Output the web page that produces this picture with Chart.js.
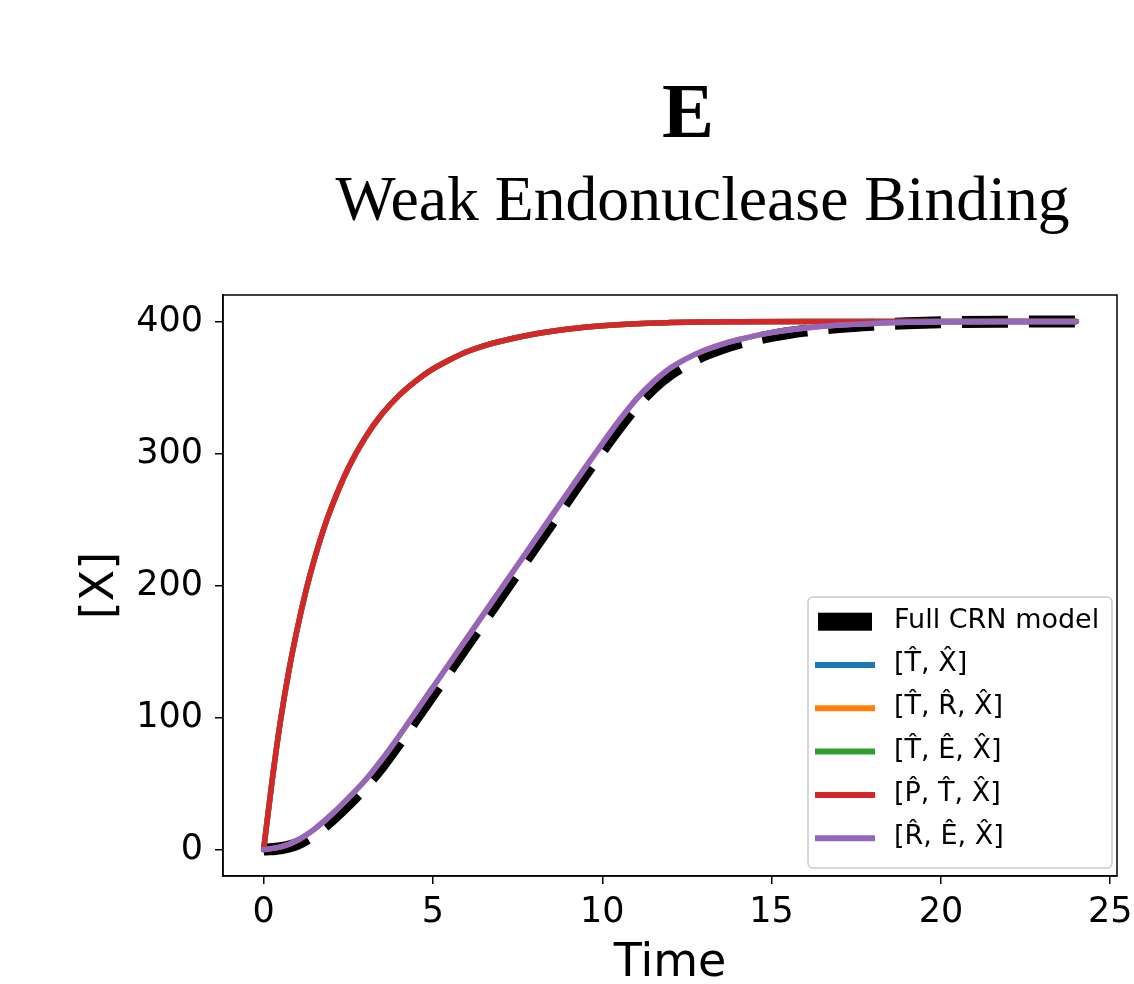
<!DOCTYPE html>
<html>
<head>
<meta charset="utf-8">
<script src="https://cdn.jsdelivr.net/npm/chart.js@4.4.0/dist/chart.umd.min.js"></script>
<style>
html,body{margin:0;padding:0;background:#fff;}
#wrap{width:1134px;height:984px;position:relative;}
</style>
</head>
<body>
<div id="wrap"><canvas id="c" width="1134" height="984"></canvas></div>
<script>
// ---- data ----
const panelLetter = 'E';
const chartTitle = 'Weak Endonuclease Binding';
const xLabel = 'Time';
const yLabel = '[X]';
const xTicks = [0, 5, 10, 15, 20, 25];
const yTicks = [0, 100, 200, 300, 400];

const timeFast = [0, 0.25, 0.5, 0.75, 1, 1.25, 1.5, 1.75, 2, 2.5, 3, 3.5, 4, 4.5, 5, 5.5, 6, 6.5, 7, 8, 9, 10, 11, 12, 13, 14, 16, 18, 20, 22, 24];
const fastValues = [0, 52, 98, 136, 168, 196, 220, 241, 259, 289, 312, 330, 344, 355, 364, 371, 377, 381.5, 385, 390.5, 394.3, 396.8, 398.3, 399.1, 399.6, 399.8, 400, 400, 400, 400, 400];

const timeSlow = [0, 0.5, 1, 1.5, 2, 2.5, 3, 3.5, 4, 4.5, 5, 5.5, 6, 6.5, 7, 7.5, 8, 8.5, 9, 9.5, 10, 10.5, 11, 11.5, 12, 12.5, 13, 13.5, 14, 14.5, 15, 15.5, 16, 17, 18, 19, 20, 22, 24];
const slowValues = [0, 2, 7, 15.5, 26.5, 39, 52.5, 68.5, 86, 104.5, 123, 141.5, 160, 178.5, 197, 215.5, 234, 252.5, 271, 289.5, 307.5, 325, 341, 354, 364.5, 372, 378, 382.5, 386, 389, 391.5, 393.5, 395, 397.2, 398.5, 399.3, 399.7, 400, 400];
const fullCRNValues = [0, 1, 4.5, 12, 22.5, 34.5, 48, 63.5, 81, 99.5, 118, 136.5, 155, 173.5, 192, 210.5, 229, 247.5, 266, 284.5, 302.5, 320, 336, 349.5, 360, 368, 374.5, 379.5, 383.5, 386.5, 389, 391.2, 393, 395.8, 397.5, 398.6, 399.3, 399.8, 400];

const seriesLabels = ['Full CRN model', '[T\u0302, X\u0302]', '[T\u0302, R\u0302, X\u0302]', '[T\u0302, E\u0302, X\u0302]', '[P\u0302, T\u0302, X\u0302]', '[R\u0302, E\u0302, X\u0302]'];
const seriesColors = ['#000000', '#1f77b4', '#ff7f0e', '#2ca02c', '#d62728', '#9467bd'];

// ---- build ----
const pts = (xs, ys) => xs.map((x, i) => ({x: x, y: ys[i]}));
const seriesData = [
  pts(timeSlow, fullCRNValues),
  pts(timeFast, fastValues),
  pts(timeSlow, slowValues),
  pts(timeFast, fastValues),
  pts(timeFast, fastValues),
  pts(timeSlow, slowValues)
];

const datasets = seriesData.map((d, i) => ({
  label: seriesLabels[i],
  data: d,
  borderColor: seriesColors[i],
  backgroundColor: seriesColors[i],
  borderWidth: i === 0 ? 12 : 5.5,
  borderDash: i === 0 ? [46, 21] : [],
  borderCapStyle: i === 0 ? 'butt' : 'round',
  pointRadius: 0,
  fill: false,
  cubicInterpolationMode: 'monotone',
  order: 6 - i
}));

const bgPlugin = {
  id: 'bg',
  beforeDraw(chart) {
    const ctx = chart.ctx;
    ctx.save();
    ctx.fillStyle = '#ffffff';
    ctx.fillRect(0, 0, chart.width, chart.height);
    ctx.restore();
  }
};

const titlePlugin = {
  id: 'panelTitle',
  afterDraw(chart) {
    const ctx = chart.ctx;
    ctx.save();
    ctx.fillStyle = '#000';
    ctx.textAlign = 'center';
    ctx.textBaseline = 'alphabetic';
    ctx.font = 'bold 78px "Liberation Serif", "DejaVu Serif", serif';
    ctx.fillText(panelLetter, 688, 137);
    ctx.font = '63.7px "Liberation Serif", "DejaVu Serif", serif';
    ctx.fillText(chartTitle, 702.5, 220);
    ctx.restore();
  }
};

const framePlugin = {
  id: 'frame',
  afterDatasetsDraw(chart) {
    const a = chart.chartArea;
    const ctx = chart.ctx;
    ctx.save();
    ctx.strokeStyle = '#000';
    ctx.lineWidth = 1.5;
    ctx.strokeRect(a.left, a.top, a.right - a.left, a.bottom - a.top);
    ctx.restore();
  }
};

const legendPlugin = {
  id: 'boxLegend',
  afterDraw(chart) {
    const ctx = chart.ctx;
    const bx = 808, by = 597, bw = 304, bh = 271, r = 5;
    ctx.save();
    ctx.beginPath();
    ctx.moveTo(bx + r, by);
    ctx.arcTo(bx + bw, by, bx + bw, by + bh, r);
    ctx.arcTo(bx + bw, by + bh, bx, by + bh, r);
    ctx.arcTo(bx, by + bh, bx, by, r);
    ctx.arcTo(bx, by, bx + bw, by, r);
    ctx.closePath();
    ctx.fillStyle = 'rgba(255,255,255,0.8)';
    ctx.fill();
    ctx.strokeStyle = '#cccccc';
    ctx.lineWidth = 1.5;
    ctx.stroke();
    const rowH = 43.3;
    const y0 = 621.7;
    chart.data.datasets.forEach((ds, i) => {
      const cy = y0 + i * rowH;
      if (i === 0) {
        ctx.fillStyle = ds.borderColor;
        ctx.fillRect(818, cy - 9, 54, 18);
      } else {
        ctx.beginPath();
        ctx.strokeStyle = ds.borderColor;
        ctx.lineWidth = 6;
        ctx.lineCap = 'square';
        ctx.moveTo(818, cy);
        ctx.lineTo(872, cy);
        ctx.stroke();
      }
      ctx.fillStyle = '#000';
      ctx.font = '27px "DejaVu Sans", sans-serif';
      ctx.textAlign = 'left';
      ctx.textBaseline = 'middle';
      ctx.fillText(ds.label, 894, cy - 1);
    });
    ctx.restore();
  }
};

const tickFont = {family: '"DejaVu Sans", sans-serif', size: 35};
const titleFont = {family: '"DejaVu Sans", sans-serif', size: 46};
const zeroPad = (s) => { s.paddingLeft = 0; s.paddingRight = 0; s.paddingTop = 0; s.paddingBottom = 0; };

new Chart(document.getElementById('c'), {
  type: 'line',
  data: {datasets: datasets},
  options: {
    responsive: false,
    animation: false,
    devicePixelRatio: 1,
    layout: {padding: {left: 0, right: 17, top: 295, bottom: 0}},
    plugins: {legend: {display: false}, tooltip: {enabled: false}, title: {display: false}},
    scales: {
      x: {
        type: 'linear',
        min: -1.2,
        max: 25.2,
        afterBuildTicks: (s) => { s.ticks = xTicks.map(v => ({value: v})); },
        afterFit: (s) => { s.height = 108; zeroPad(s); },
        grid: {display: true, drawOnChartArea: false, drawTicks: true, tickLength: 8, color: '#000', lineWidth: 1.5},
        border: {display: true, color: '#000', width: 1.5},
        ticks: {font: tickFont, color: '#000', padding: 8, maxRotation: 0, autoSkip: false},
        title: {display: true, text: xLabel, font: titleFont, color: '#000', padding: {top: 0, bottom: -8}}
      },
      y: {
        type: 'linear',
        min: -20,
        max: 420,
        afterBuildTicks: (s) => { s.ticks = yTicks.map(v => ({value: v})); },
        afterFit: (s) => { s.width = 223; zeroPad(s); },
        grid: {display: true, drawOnChartArea: false, drawTicks: true, tickLength: 8, color: '#000', lineWidth: 1.5},
        border: {display: true, color: '#000', width: 1.5},
        ticks: {font: tickFont, color: '#000', padding: 12, autoSkip: false},
        title: {display: true, text: yLabel, font: titleFont, color: '#000', padding: {top: 73, bottom: 0}}
      }
    }
  },
  plugins: [bgPlugin, framePlugin, titlePlugin, legendPlugin]
});
</script>
</body>
</html>
